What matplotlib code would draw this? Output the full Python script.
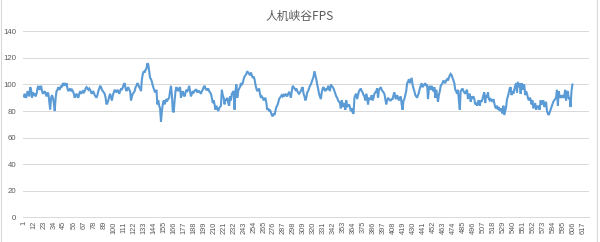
import matplotlib
matplotlib.use("Agg")
import matplotlib.pyplot as plt
from matplotlib.lines import Line2D

title = "人机峡谷FPS"
n_categories = 623
y_ticks = [0, 20, 40, 60, 80, 100, 120, 140]

fps_1_100 = [91, 93, 90, 91, 95, 93, 91, 98, 96, 90, 94, 92, 93, 91, 93, 97, 99, 96, 97, 99,
             95, 93, 94, 95, 93, 91, 94, 93, 87, 81, 90, 92, 90, 86, 80, 90, 95, 96, 98, 96,
             97, 99, 98, 101, 100, 101, 99, 101, 97, 95, 96, 97, 95, 96, 95, 93, 90, 92, 93, 91,
             90, 93, 95, 93, 94, 95, 94, 95, 97, 98, 97, 96, 97, 96, 94, 93, 95, 94, 92, 91,
             90, 92, 95, 97, 99, 98, 96, 95, 94, 93, 90, 85, 86, 88, 91, 93, 90, 88, 92, 94]
fps_101_202 = [96, 95, 94, 96, 95, 93, 95, 97, 96, 98, 100, 101, 97, 95, 97, 98, 96, 95, 88, 91,
               93, 94, 95, 98, 99, 101, 100, 98, 97, 95, 104, 108, 110, 109, 111, 112, 116, 115, 110, 105,
               104, 102, 99, 97, 95, 94, 96, 85, 88, 84, 82, 72, 80, 85, 88, 85, 87, 89, 88, 89,
               90, 95, 99, 92, 80, 79, 88, 95, 98, 96, 95, 97, 98, 90, 93, 95, 92, 91, 94, 96,
               95, 96, 99, 95, 91, 93, 95, 94, 95, 96, 96, 94, 95, 95, 94, 93, 95, 96, 98, 99,
               97, 96]
fps_203_305 = [96, 97, 95, 94, 93, 90, 86, 88, 85, 81, 84, 82, 80, 82, 83, 84, 96, 92, 90, 85,
               89, 88, 90, 86, 84, 91, 88, 93, 94, 95, 81, 95, 100, 90, 95, 97, 98, 101, 100, 101,
               104, 106, 107, 108, 110, 109, 108, 107, 109, 107, 105, 106, 104, 100, 97, 95, 96, 97, 93, 90,
               91, 90, 88, 89, 90, 86, 81, 82, 80, 81, 79, 77, 76, 78, 77, 80, 83, 84, 86, 89,
               90, 91, 92, 91, 92, 91, 93, 92, 91, 93, 94, 93, 90, 95, 99, 98, 97, 96, 97, 95,
               94, 93, 94]
fps_306_407 = [95, 97, 98, 93, 91, 88, 90, 94, 95, 97, 99, 100, 102, 104, 106, 110, 107, 104, 100, 97,
               93, 91, 89, 94, 97, 98, 96, 95, 97, 96, 99, 97, 95, 100, 99, 98, 97, 95, 93, 91,
               90, 88, 87, 86, 82, 88, 83, 86, 84, 81, 88, 83, 84, 85, 83, 80, 82, 79, 78, 90,
               92, 93, 89, 92, 95, 96, 97, 95, 94, 92, 91, 88, 93, 90, 85, 90, 89, 89, 92, 88,
               90, 93, 94, 95, 97, 90, 96, 97, 98, 96, 95, 94, 93, 89, 85, 88, 90, 89, 88, 88,
               89, 89]
fps_408_509 = [92, 94, 90, 89, 92, 90, 88, 90, 91, 85, 81, 88, 89, 92, 95, 101, 102, 104, 101, 103,
               105, 100, 97, 95, 92, 91, 90, 92, 94, 97, 99, 101, 98, 99, 100, 101, 99, 100, 89, 97,
               99, 96, 99, 96, 95, 98, 90, 96, 92, 87, 92, 95, 99, 100, 101, 103, 102, 101, 103, 104,
               103, 105, 107, 108, 107, 105, 103, 101, 96, 95, 93, 96, 88, 81, 95, 96, 97, 95, 94, 93,
               95, 96, 89, 92, 93, 87, 91, 90, 91, 89, 85, 86, 84, 87, 88, 84, 88, 87, 89, 92,
               94, 86]
fps_510_605 = [92, 90, 94, 89, 88, 89, 88, 87, 89, 86, 83, 82, 84, 81, 83, 80, 82, 80, 78, 84,
               77, 80, 83, 89, 91, 94, 97, 98, 92, 95, 93, 96, 99, 101, 94, 102, 98, 101, 93, 101,
               96, 99, 100, 92, 95, 93, 90, 88, 90, 89, 85, 88, 82, 84, 86, 81, 83, 84, 82, 81,
               88, 85, 86, 88, 83, 85, 87, 80, 78, 77, 79, 81, 83, 85, 87, 88, 89, 90, 96, 84,
               95, 90, 91, 90, 92, 90, 91, 96, 88, 94, 95, 89, 90, 83, 95, 100]

fps = fps_1_100 + fps_101_202 + fps_203_305 + fps_306_407 + fps_408_509 + fps_510_605
x = list(range(1, len(fps) + 1))
x_tick_pos = list(range(1, n_categories + 1, 11))
x_tick_labels = [str(v) for v in x_tick_pos]

plt.rcParams['font.family'] = ['Liberation Sans', 'DejaVu Sans']

fig = plt.figure(figsize=(6.0, 2.42), dpi=100)
ax = fig.add_axes([0.039, 0.103, 0.943, 0.767])

ax.plot(x, fps, color='#5B9BD5', lw=1.5, solid_joinstyle='miter')

ax.set_xlim(0.5, n_categories + 0.5)
ax.set_ylim(0, 140)
ax.set_yticks(y_ticks)
ax.set_yticklabels([str(v) for v in y_ticks])
ax.set_xticks(x_tick_pos)
ax.set_xticklabels(x_tick_labels, rotation=90)
ax.tick_params(axis='x', length=0, labelsize=5.3, colors='#595959', pad=3)
ax.tick_params(axis='y', length=0, labelsize=5.6, colors='#595959', pad=5)
ax.grid(axis='y', color='#D9D9D9', lw=0.7)
ax.set_axisbelow(True)
for s in ['top', 'right', 'left']:
    ax.spines[s].set_visible(False)
ax.spines['bottom'].set_color('#D9D9D9')
ax.spines['bottom'].set_linewidth(0.7)

fig.text(0.5, 0.93, title, ha='center', va='center', fontsize=8.5, color='#595959',
         family=['Noto Sans CJK SC', 'DejaVu Sans'])

fig.add_artist(Line2D([0.002, 0.002], [0, 1], transform=fig.transFigure, color='#D9D9D9', lw=0.8))
fig.add_artist(Line2D([0.995, 0.995], [0, 1], transform=fig.transFigure, color='#D9D9D9', lw=0.8))

fig.savefig('out.png', dpi=100)
